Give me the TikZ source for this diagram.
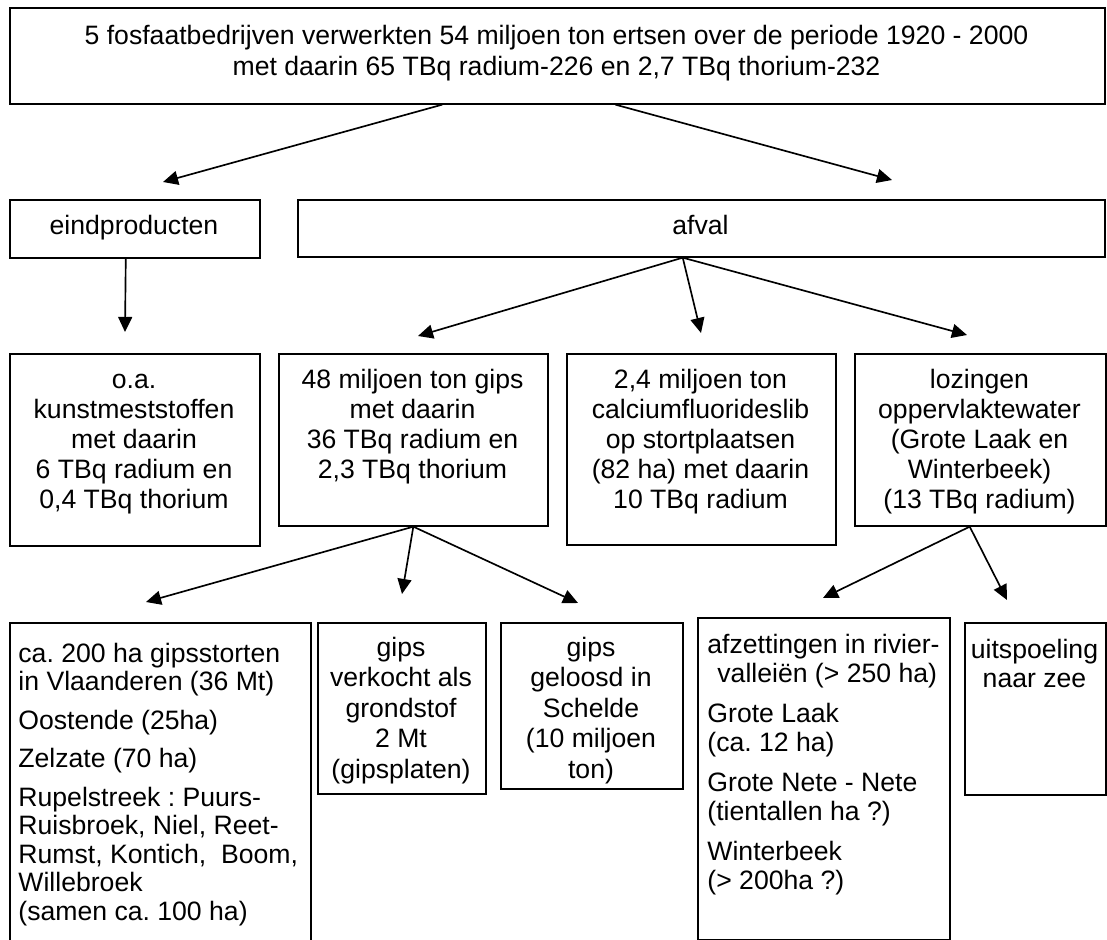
\documentclass[tikz,border=0pt]{standalone}
\usepackage{fontspec}
\setmainfont{Liberation Sans}
\usetikzlibrary{arrows.meta,calc}
\def\U{0.451pt}
\newcommand\fl{\rule{0pt}{10pt}}
\tikzset{
  box/.style={draw, line width=0.75pt, inner sep=0pt, anchor=north west},
  lbl/.style={inner sep=0pt, font=\fontsize{12pt}{13.5pt}\selectfont},
  arr/.style={line width=0.75pt, -{Triangle[length=6.8pt,width=6.3pt]}},
}
\begin{document}
\frenchspacing
\begin{tikzpicture}[x=0.451pt, y=-0.451pt]
\useasboundingbox (0,0) rectangle (1107,940);
\clip (0,0) rectangle (1107,940);

% boxes
\node[box, minimum width=1095*\U, minimum height=96*\U] (top) at (9,7) {};
\node[box, minimum width=250*\U, minimum height=58*\U] (eind) at (9,199) {};
\node[box, minimum width=807*\U, minimum height=57*\U] (afval) at (297,199) {};
\node[box, minimum width=250*\U, minimum height=192*\U] (r1) at (9,353) {};
\node[box, minimum width=269*\U, minimum height=172*\U] (r2) at (278,353) {};
\node[box, minimum width=269*\U, minimum height=191*\U] (r3) at (566,353) {};
\node[box, minimum width=251*\U, minimum height=172*\U] (r4) at (854,353) {};
\node[box, minimum width=301*\U, minimum height=340*\U] (qa) at (9,622) {};
\node[box, minimum width=168*\U, minimum height=171*\U] (qb) at (317,622) {};
\node[box, minimum width=182*\U, minimum height=166*\U] (qc) at (500,622) {};
\node[box, minimum width=252*\U, minimum height=322*\U] (qd) at (697,617) {};
\node[box, minimum width=141*\U, minimum height=172*\U] (qe) at (964,622) {};

% texts
\node[lbl, font=\fontsize{12pt}{14pt}\selectfont, align=center, anchor=north, yshift=10pt] (t-top) at (556.5,44)
  {\fl 5 fosfaatbedrijven verwerkten 54 miljoen ton ertsen over de periode 1920 - 2000\\
   met daarin 65 TBq radium-226 en 2,7 TBq thorium-232};
\node[lbl, anchor=base] (t-eind) at (134,234) {eindproducten};
\node[lbl, anchor=base] (t-afval) at (700.5,234) {afval};

\node[lbl, align=center, anchor=north, yshift=10pt] (t-r1) at (134,388)
  {\fl o.a.\\kunstmeststoffen\\met daarin\\6 TBq radium en\\0,4 TBq thorium};
\node[lbl, align=center, anchor=north, yshift=10pt] (t-r2) at (412.5,388)
  {\fl 48 miljoen ton gips\\met daarin\\36 TBq radium en\\2,3 TBq thorium};
\node[lbl, align=center, anchor=north, yshift=10pt] (t-r3) at (700.5,388)
  {\fl 2,4 miljoen ton\\calciumfluorideslib\\op stortplaatsen\\(82 ha) met daarin\\10 TBq radium};
\node[lbl, align=center, anchor=north, yshift=10pt] (t-r4) at (979.5,388)
  {\fl lozingen\\oppervlaktewater\\(Grote Laak en\\Winterbeek)\\(13 TBq radium)};

\node[lbl, font=\fontsize{12pt}{12.85pt}\selectfont, align=left, anchor=north west, yshift=10pt] (t-qa) at (18,662)
  {\fl ca. 200 ha gipsstorten\\in Vlaanderen (36 Mt)\\[4.5pt]
   Oostende (25ha)\\[4.5pt]
   Zelzate (70 ha)\\[4.5pt]
   Rupelstreek : Puurs-\\Ruisbroek, Niel, Reet-\\Rumst, Kontich,\ \ Boom,\\Willebroek\\(samen ca. 100 ha)};
\node[lbl, font=\fontsize{12pt}{13.75pt}\selectfont, align=center, anchor=north, yshift=10pt] (t-qb) at (401,656)
  {\fl gips\\verkocht als\\grondstof\\2 Mt\\(gipsplaten)};
\node[lbl, font=\fontsize{12pt}{13.75pt}\selectfont, align=center, anchor=north, yshift=10pt] (t-qc) at (591,656)
  {\fl gips\\geloosd in\\Schelde\\(10 miljoen\\ton)};
\node[lbl, font=\fontsize{12pt}{13.3pt}\selectfont, align=left, anchor=north west, yshift=10pt] (t-qd) at (707,653)
  {\fl afzettingen in rivier-\\\hspace*{4.5pt}valleiën (> 250 ha)\\[4.5pt]
   Grote Laak\\(ca. 12 ha)\\[4.5pt]
   Grote Nete - Nete\\(tientallen ha ?)\\[4.5pt]
   Winterbeek\\(> 200ha ?)};
\node[lbl, font=\fontsize{12pt}{13.1pt}\selectfont, align=center, anchor=north, yshift=10pt] (t-qe) at (1034.5,658)
  {\fl uitspoeling\\naar zee};

% arrow tips
\coordinate (p-eind) at (163,182);
\coordinate (p-afval) at (892,180);
\coordinate (p-r1) at (125,332);
\coordinate (p-r2) at (418,336);
\coordinate (p-r3) at (701,333);
\coordinate (p-r4) at (967,335);
\coordinate (p-qa) at (146,602);
\coordinate (p-qb) at (402,594);
\coordinate (p-qc) at (578,603);
\coordinate (p-qd) at (823,598);
\coordinate (p-qe) at (1007,600);

% connectors
\draw[arr] ($(top.south west)!0.395!(top.south east)$) -- (p-eind);
\draw[arr] ($(top.south west)!0.553!(top.south east)$) -- (p-afval);
\draw[arr] ($(eind.south west)!0.464!(eind.south east)$) -- (p-r1);
\coordinate (o-afval) at ($(afval.south west)!0.477!(afval.south east)$);
\draw[arr] (o-afval) -- (p-r2);
\draw[arr] (o-afval) -- (p-r3);
\draw[arr] (o-afval) -- (p-r4);
\draw[arr] (r2.south) -- (p-qa);
\draw[arr] (r2.south) -- (p-qb);
\draw[arr] (r2.south) -- (p-qc);
\coordinate (o-r4) at ($(r4.south west)!0.458!(r4.south east)$);
\draw[arr] (o-r4) -- (p-qd);
\draw[arr] (o-r4) -- (p-qe);
\end{tikzpicture}
\end{document}
